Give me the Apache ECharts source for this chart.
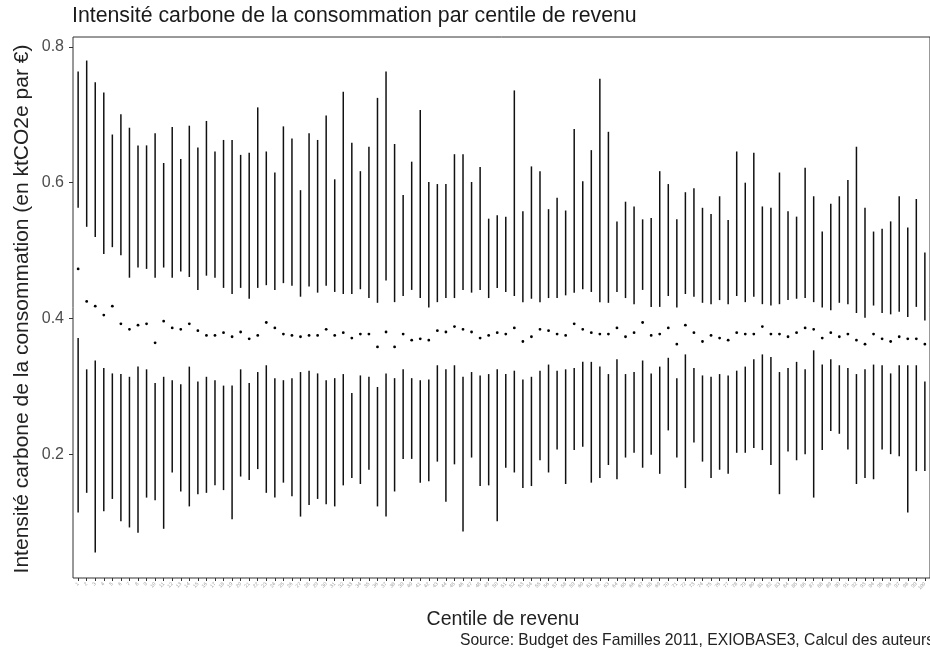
<!DOCTYPE html>
<html>
<head>
<meta charset="utf-8">
<script src="https://cdn.jsdelivr.net/npm/echarts@6/dist/echarts.min.js"></script>
<style>
  html, body { margin: 0; padding: 0; background: #fff; }
  #chart { width: 930px; height: 653px; }
</style>
</head>
<body>
<div id="chart"></div>
<script>
// centiles de revenu 1..100
const centiles = Array.from({ length: 100 }, (_, i) => i + 1)
const yTicks = [0.2, 0.4, 0.6, 0.8]

// haut de la moustache supérieure
const upperMax = [
  0.764, 0.780, 0.748, 0.733, 0.671, 0.701, 0.681, 0.655, 0.655, 0.673,
  0.629, 0.682, 0.635, 0.684, 0.652, 0.691, 0.646, 0.663, 0.663, 0.641,
  0.644, 0.711, 0.646, 0.615, 0.683, 0.665, 0.589, 0.673, 0.663, 0.699,
  0.605, 0.734, 0.659, 0.617, 0.653, 0.725, 0.764, 0.657, 0.582, 0.631,
  0.707, 0.601, 0.598, 0.598, 0.642, 0.642, 0.601, 0.623, 0.547, 0.552,
  0.550, 0.736, 0.558, 0.624, 0.617, 0.561, 0.578, 0.559, 0.679, 0.602,
  0.648, 0.753, 0.675, 0.543, 0.572, 0.565, 0.546, 0.548, 0.617, 0.598,
  0.546, 0.586, 0.592, 0.563, 0.554, 0.580, 0.545, 0.646, 0.600, 0.644,
  0.565, 0.563, 0.615, 0.558, 0.550, 0.622, 0.580, 0.528, 0.569, 0.580,
  0.604, 0.653, 0.563, 0.528, 0.532, 0.543, 0.580, 0.534, 0.576, 0.497
]
// bas de la moustache supérieure
const upperQ = [
  0.563, 0.535, 0.520, 0.495, 0.505, 0.493, 0.460, 0.475, 0.473, 0.460,
  0.475, 0.460, 0.469, 0.461, 0.442, 0.463, 0.460, 0.445, 0.436, 0.445,
  0.429, 0.445, 0.449, 0.442, 0.452, 0.448, 0.432, 0.447, 0.438, 0.448,
  0.439, 0.436, 0.436, 0.443, 0.430, 0.423, 0.456, 0.424, 0.433, 0.442,
  0.430, 0.416, 0.424, 0.430, 0.430, 0.442, 0.438, 0.442, 0.430, 0.445,
  0.439, 0.433, 0.424, 0.429, 0.424, 0.430, 0.430, 0.434, 0.438, 0.443,
  0.439, 0.424, 0.423, 0.439, 0.430, 0.421, 0.442, 0.417, 0.417, 0.433,
  0.416, 0.436, 0.432, 0.423, 0.421, 0.427, 0.421, 0.433, 0.424, 0.432,
  0.421, 0.419, 0.421, 0.427, 0.429, 0.430, 0.424, 0.416, 0.412, 0.423,
  0.421, 0.408, 0.401, 0.419, 0.408, 0.406, 0.410, 0.402, 0.417, 0.397
]
// médiane
const median = [
  0.473, 0.425, 0.418, 0.405, 0.418, 0.392, 0.384, 0.390, 0.392, 0.364,
  0.396, 0.386, 0.384, 0.392, 0.382, 0.375, 0.375, 0.379, 0.373, 0.380,
  0.370, 0.375, 0.394, 0.386, 0.377, 0.375, 0.373, 0.375, 0.375, 0.384,
  0.375, 0.379, 0.371, 0.377, 0.377, 0.358, 0.380, 0.358, 0.377, 0.368,
  0.370, 0.368, 0.382, 0.380, 0.388, 0.384, 0.380, 0.371, 0.375, 0.379,
  0.377, 0.386, 0.366, 0.373, 0.384, 0.382, 0.377, 0.375, 0.392, 0.384,
  0.379, 0.377, 0.377, 0.386, 0.373, 0.379, 0.394, 0.375, 0.377, 0.386,
  0.362, 0.390, 0.379, 0.366, 0.375, 0.371, 0.368, 0.379, 0.377, 0.377,
  0.388, 0.377, 0.377, 0.373, 0.379, 0.386, 0.384, 0.371, 0.379, 0.373,
  0.377, 0.368, 0.362, 0.377, 0.370, 0.366, 0.373, 0.370, 0.370, 0.362
]
// haut de la moustache inférieure
const lowerQ = [
  0.371, 0.325, 0.338, 0.327, 0.319, 0.318, 0.314, 0.329, 0.325, 0.305,
  0.314, 0.309, 0.303, 0.329, 0.307, 0.314, 0.309, 0.301, 0.301, 0.325,
  0.305, 0.321, 0.331, 0.312, 0.309, 0.312, 0.321, 0.323, 0.319, 0.309,
  0.312, 0.318, 0.290, 0.316, 0.314, 0.299, 0.319, 0.312, 0.325, 0.312,
  0.309, 0.310, 0.331, 0.325, 0.331, 0.314, 0.321, 0.316, 0.318, 0.325,
  0.318, 0.323, 0.310, 0.314, 0.323, 0.332, 0.323, 0.325, 0.327, 0.336,
  0.336, 0.329, 0.318, 0.340, 0.318, 0.321, 0.338, 0.319, 0.329, 0.342,
  0.312, 0.347, 0.327, 0.316, 0.314, 0.318, 0.316, 0.323, 0.329, 0.340,
  0.347, 0.343, 0.321, 0.327, 0.336, 0.325, 0.353, 0.332, 0.340, 0.331,
  0.327, 0.318, 0.325, 0.332, 0.331, 0.319, 0.331, 0.331, 0.331, 0.307
]
// bas de la moustache inférieure
const lowerMin = [
  0.114, 0.143, 0.055, 0.116, 0.134, 0.101, 0.092, 0.084, 0.136, 0.132,
  0.090, 0.173, 0.145, 0.123, 0.141, 0.143, 0.154, 0.147, 0.104, 0.167,
  0.162, 0.178, 0.143, 0.136, 0.158, 0.138, 0.108, 0.125, 0.134, 0.126,
  0.123, 0.154, 0.165, 0.156, 0.177, 0.123, 0.108, 0.145, 0.193, 0.193,
  0.158, 0.160, 0.189, 0.130, 0.185, 0.086, 0.195, 0.153, 0.154, 0.101,
  0.180, 0.173, 0.150, 0.153, 0.191, 0.173, 0.207, 0.156, 0.206, 0.211,
  0.158, 0.165, 0.184, 0.163, 0.195, 0.202, 0.180, 0.199, 0.171, 0.235,
  0.195, 0.150, 0.217, 0.189, 0.165, 0.177, 0.171, 0.202, 0.202, 0.209,
  0.206, 0.184, 0.141, 0.204, 0.191, 0.200, 0.136, 0.206, 0.234, 0.230,
  0.207, 0.156, 0.165, 0.163, 0.207, 0.200, 0.197, 0.114, 0.175, 0.175
]

const rows = centiles.map((c, i) => [c, upperMax[i], upperQ[i], median[i], lowerQ[i], lowerMin[i]])

const chart = echarts.init(document.getElementById('chart'))
const font = 'Liberation Sans, Arial, sans-serif'

chart.setOption({
  animation: false,
  textStyle: { fontFamily: font },
  title: {
    text: 'Intensité carbone de la consommation par centile de revenu',
    left: 67,
    top: 1,
    textStyle: { fontSize: 21.3, fontWeight: 'normal', color: '#1a1a1a', fontFamily: font }
  },
  grid: {
    left: 73, top: 37, width: 860, height: 541,
    show: true, borderColor: '#333', borderWidth: 1, backgroundColor: '#fff'
  },
  xAxis: {
    type: 'value',
    min: 0.4,
    max: 100.6,
    axisLine: { show: false },
    splitLine: { show: false },
    axisTick: { show: true, customValues: centiles, length: 3, lineStyle: { color: '#333' } },
    axisLabel: {
      customValues: centiles,
      rotate: 45,
      fontSize: 5,
      color: '#a0a0a0',
      margin: 5,
      formatter: v => String(Math.round(v))
    }
  },
  yAxis: {
    type: 'value',
    min: 0.0175,
    max: 0.8147,
    axisLine: { show: false },
    splitLine: { show: false },
    axisTick: { show: true, customValues: yTicks, length: 4, lineStyle: { color: '#333' } },
    axisLabel: {
      customValues: yTicks,
      fontSize: 16,
      color: '#4d4d4d',
      margin: 9,
      formatter: v => v.toFixed(1)
    }
  },
  graphic: [
    {
      type: 'text', x: 22, y: 309, rotation: Math.PI / 2,
      style: {
        text: 'Intensité carbone de la consommation (en ktCO2e par €)',
        fill: '#222', font: '21px ' + font, textAlign: 'center', textVerticalAlign: 'middle'
      }
    },
    {
      type: 'text', x: 503, y: 620,
      style: {
        text: 'Centile de revenu',
        fill: '#222', font: '19.5px ' + font, textAlign: 'center', textVerticalAlign: 'middle'
      }
    },
    {
      type: 'text', x: 934, y: 641,
      style: {
        text: 'Source: Budget des Familles 2011, EXIOBASE3, Calcul des auteurs',
        fill: '#222', font: '15.7px ' + font, textAlign: 'right', textVerticalAlign: 'middle'
      }
    }
  ],
  series: [{
    type: 'custom',
    data: rows,
    encode: { x: 0, y: [1, 2, 3, 4, 5] },
    renderItem: function (params, api) {
      const c = api.value(0)
      const pTop = api.coord([c, api.value(1)])
      const pQ3 = api.coord([c, api.value(2)])
      const pMed = api.coord([c, api.value(3)])
      const pQ1 = api.coord([c, api.value(4)])
      const pMin = api.coord([c, api.value(5)])
      const line = { stroke: '#111', lineWidth: 1.5 }
      return {
        type: 'group',
        children: [
          { type: 'line', shape: { x1: pTop[0], y1: pTop[1], x2: pQ3[0], y2: pQ3[1] }, style: line },
          { type: 'line', shape: { x1: pQ1[0], y1: pQ1[1], x2: pMin[0], y2: pMin[1] }, style: line },
          { type: 'circle', shape: { cx: pMed[0], cy: pMed[1], r: 1.4 }, style: { fill: '#000' } }
        ]
      }
    }
  }]
})
</script>
</body>
</html>
